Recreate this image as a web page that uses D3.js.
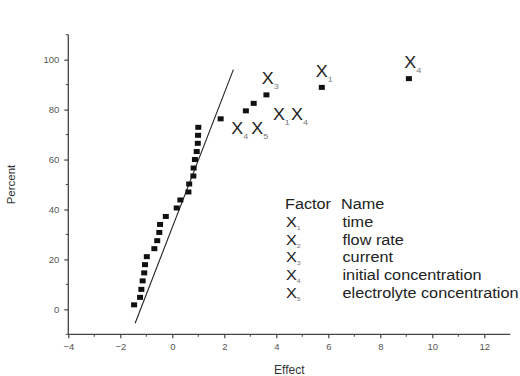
<!DOCTYPE html>
<html>
<head>
<meta charset="utf-8">
<script src="https://cdn.jsdelivr.net/npm/d3@7"></script>
<style>
  body { margin: 0; background: #fff; }
  svg { display: block; font-family: "Liberation Sans", Arial, sans-serif; }
</style>
</head>
<body>
<div id="chart"></div>
<script>
// effects (x) and cumulative percent (y)
const effects = [-1.47, -1.24, -1.19, -1.14, -1.08, -1.05, -0.98, -0.69, -0.58, -0.50,
  -0.47, -0.25, 0.17, 0.31, 0.62, 0.65, 0.81, 0.82, 0.87, 0.94,
  0.98, 0.99, 1.00, 1.86, 2.83, 3.13, 3.62, 5.75, 9.10];
const percents = [1.8, 4.8, 8.0, 11.4, 14.6, 17.9, 21.1, 24.3, 27.5, 30.8,
  34.0, 37.2, 40.6, 43.8, 47.0, 50.2, 53.4, 56.6, 60.0, 63.2,
  66.5, 69.7, 72.9, 76.3, 79.5, 82.5, 85.9, 88.9, 92.4];

// reference line end points
const lineX = [-1.43, 2.35];
const lineY = [-5.6, 96.0];

// labels of significant effects: subscripts, x, y
const labelSubs = ['3', '1', '4', '4', '5', '1', '4'];
const labelX = [3.67, 5.75, 9.15, 2.5, 3.27, 4.1, 4.8];
const labelY = [92.5, 95.3, 98.9, 72.6, 72.6, 78.3, 78.3];

// legend
const factorSubs = ['1', '2', '3', '4', '5'];
const factorNames = ['time', 'flow rate', 'current', 'initial concentration', 'electrolyte concentration'];

const xTicks = [-4, -2, 0, 2, 4, 6, 8, 10, 12];
const yTicks = [0, 20, 40, 60, 80, 100];

const W = 520, H = 376;
const svg = d3.select('#chart').append('svg')
  .attr('width', W).attr('height', H);

const x = d3.scaleLinear().domain([-4, 13]).range([68.3, 510.3]);
const y = d3.scaleLinear().domain([-10, 110]).range([334.3, 34.7]);

const axisColor = '#444';
const tickText = '#555';

// axes
const gx = svg.append('g').attr('transform', `translate(0,${y(-10)})`)
  .call(d3.axisBottom(x).tickValues(xTicks).tickSize(4).tickPadding(5).tickFormat(d3.format('d')));
gx.append('g').selectAll('line')
  .data(d3.range(-3, 13, 2))
  .join('line')
  .attr('x1', d => x(d)).attr('x2', d => x(d))
  .attr('y1', 0).attr('y2', 2.5)
  .attr('stroke', axisColor);

const gy = svg.append('g').attr('transform', `translate(${x(-4)},0)`)
  .call(d3.axisLeft(y).tickValues(yTicks).tickSize(4).tickPadding(5));
gy.append('g').selectAll('line')
  .data(d3.range(-10, 111, 20))
  .join('line')
  .attr('y1', d => y(d)).attr('y2', d => y(d))
  .attr('x1', 0).attr('x2', -2.5)
  .attr('stroke', axisColor);

[gx, gy].forEach(g => {
  g.select('.domain').attr('stroke', axisColor).attr('stroke-width', 1.3);
  g.selectAll('.tick line').attr('stroke', axisColor).attr('stroke-width', 1.2);
  g.selectAll('.tick text').attr('fill', tickText).style('font-size', '9.5px')
    .style('font-family', '"Liberation Sans", Arial, sans-serif');
});
gx.selectAll('.domain').attr('d', `M${x(-4)},0H${x(13)}`);
gy.selectAll('.domain').attr('d', `M0,${y(-10)}V${y(110)}`);

// axis titles
svg.append('text')
  .attr('x', (x(-4) + x(13)) / 2).attr('y', 374)
  .attr('text-anchor', 'middle')
  .attr('fill', '#333').style('font-size', '12px')
  .text('Effect');

svg.append('text')
  .attr('transform', `translate(15,${y(50)}) rotate(-90)`)
  .attr('text-anchor', 'middle')
  .attr('fill', '#333').style('font-size', '11.5px')
  .text('Percent');

// reference line
svg.append('line')
  .attr('x1', x(lineX[0])).attr('y1', y(lineY[0]))
  .attr('x2', x(lineX[1])).attr('y2', y(lineY[1]))
  .attr('stroke', '#222').attr('stroke-width', 1.1);

// points
const pts = effects.map((e, i) => ({ e: e, p: percents[i] }));
svg.append('g').selectAll('rect')
  .data(pts)
  .join('rect')
  .attr('x', d => x(d.e) - 3)
  .attr('y', d => y(d.p) - 2.5)
  .attr('width', 6).attr('height', 5)
  .attr('fill', '#111');

// effect labels
const labs = svg.append('g').selectAll('text')
  .data(labelSubs.map((s, i) => ({ s: s, x: labelX[i], y: labelY[i] })))
  .join('text')
  .attr('transform', d => `translate(${x(d.x) - 6},${y(d.y) + 6}) scale(1.12,1)`)
  .attr('fill', '#222')
  .style('font-size', '16px');
labs.append('tspan').text('X');
labs.append('tspan').attr('dy', 5).attr('fill', '#777')
  .style('font-size', '8px').text(d => d.s);

// legend (text in the picture is stretched horizontally)
const sx = 1.16;
const lg = svg.append('g').attr('fill', '#222').style('font-size', '14px');
function lgText(px, py) {
  return lg.append('text').attr('transform', `translate(${px},${py}) scale(${sx},1)`);
}
lgText(285, 209).text('Factor');
lgText(341, 209).text('Name');
factorNames.forEach((n, i) => {
  const yy = 227 + i * 17.7;
  const t = lgText(286, yy);
  t.append('tspan').text('X');
  t.append('tspan').attr('dy', 3).attr('fill', '#777').style('font-size', '6px').text(factorSubs[i]);
  lgText(342.5, yy).text(n);
});
</script>
</body>
</html>
